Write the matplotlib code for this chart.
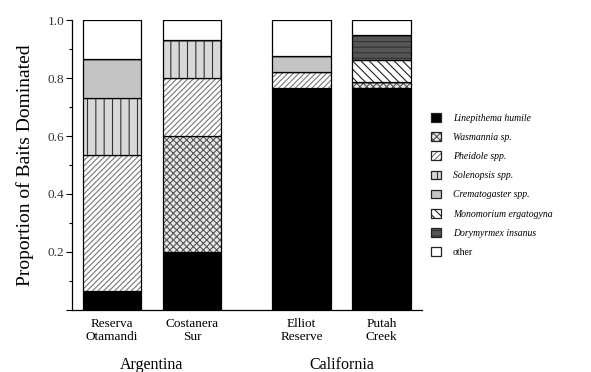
import numpy as np
import matplotlib
matplotlib.use('Agg')
import matplotlib.pyplot as plt
from matplotlib.patches import Patch

plt.rcParams['font.family'] = ['Liberation Serif', 'DejaVu Serif']
plt.rcParams['hatch.linewidth'] = 0.8

sites = ['Reserva\nOtamandi', 'Costanera\nSur', 'Elliot\nReserve', 'Putah\nCreek']
regions = ['Argentina', 'California']
region_sites = [[0, 1], [2, 3]]

species = ['Linepithema humile', 'Wasmannia sp.', 'Pheidole spp.', 'Solenopsis spp.',
           'Crematogaster spp.', 'Monomorium ergatogyna', 'Dorymyrmex insanus', 'other']
italic = [True, True, True, True, True, True, True, False]

linepithema = [0.066, 0.200, 0.765, 0.765]
wasmannia = [0.000, 0.400, 0.000, 0.022]
pheidole = [0.469, 0.200, 0.055, 0.000]
solenopsis = [0.195, 0.132, 0.000, 0.000]
crematogaster = [0.137, 0.000, 0.057, 0.000]
monomorium = [0.000, 0.000, 0.000, 0.076]
dorymyrmex = [0.000, 0.000, 0.000, 0.087]
other = [0.133, 0.068, 0.123, 0.050]

values = [linepithema, wasmannia, pheidole, solenopsis,
          crematogaster, monomorium, dorymyrmex, other]

# face colour, hatch, hatch colour
styles = [
    ('black', '', 'black'),
    ('#e8e8e8', 'xxxxx', '#555555'),
    ('white', '//////', '#777777'),
    ('#d8d8d8', '||', '#333333'),
    ('#c4c4c4', '', '#c4c4c4'),
    ('white', '\\\\\\\\', '#222222'),
    ('#555555', '---', '#333333'),
    ('white', '', 'white'),
]

x = np.array([0, 1, 2.37, 3.37])
width = 0.73

fig = plt.figure(figsize=(5.91, 3.72), dpi=100)
ax = fig.add_axes([0.1218, 0.1667, 0.5922, 0.7795])

bottom = np.zeros(len(sites))
for vals, (fc, hatch, hc) in zip(values, styles):
    vals = np.array(vals)
    ax.bar(x, vals, width, bottom=bottom, color=fc, hatch=hatch,
           edgecolor=hc, linewidth=0)
    ax.bar(x, vals, width, bottom=bottom, fill=False,
           edgecolor='black', linewidth=0.9)
    bottom += vals

ax.set_xlim(-0.5, 3.875)
ax.set_ylim(0, 1.0)
ax.spines['top'].set_visible(False)
ax.spines['right'].set_visible(False)
ax.spines['left'].set_linewidth(0.9)
ax.spines['bottom'].set_linewidth(0.9)

ax.set_yticks([0, 0.2, 0.4, 0.6, 0.8, 1.0])
ax.set_yticklabels(['', '0.2', '0.4', '0.6', '0.8', '1.0'], fontsize=9.5, color='#333333')
ax.set_yticks(np.arange(0.1, 1.0, 0.2), minor=True)
ax.tick_params(axis='y', which='major', direction='out', length=4, width=0.8, pad=1.5)
ax.tick_params(axis='y', which='minor', direction='out', length=2.5, width=0.8)

ax.set_xticks(x)
ax.set_xticklabels(sites, fontsize=9.5, linespacing=1.05)
ax.tick_params(axis='x', length=0, pad=6)

ax.set_ylabel('Proportion of Baits Dominated', fontsize=14, labelpad=10)

for name, idx in zip(regions, region_sites):
    ax.text(x[idx].mean(), -0.19, name, transform=ax.get_xaxis_transform(),
            ha='center', va='center', fontsize=11.5)

handles = []
for (fc, hatch, hc) in styles:
    fill = Patch(facecolor=fc, hatch=hatch, edgecolor=hc, linewidth=0)
    outline = Patch(fill=False, edgecolor='#222222', linewidth=0.9)
    handles.append((fill, outline))
leg = fig.legend(handles, species, loc='upper left', bbox_to_anchor=(0.715, 0.72),
                 frameon=False, fontsize=7, handlelength=1.0, handleheight=1.0,
                 labelspacing=0.98, handletextpad=1.2)
for txt, it in zip(leg.get_texts(), italic):
    if it:
        txt.set_fontstyle('italic')

fig.savefig('out.png', dpi=100)
